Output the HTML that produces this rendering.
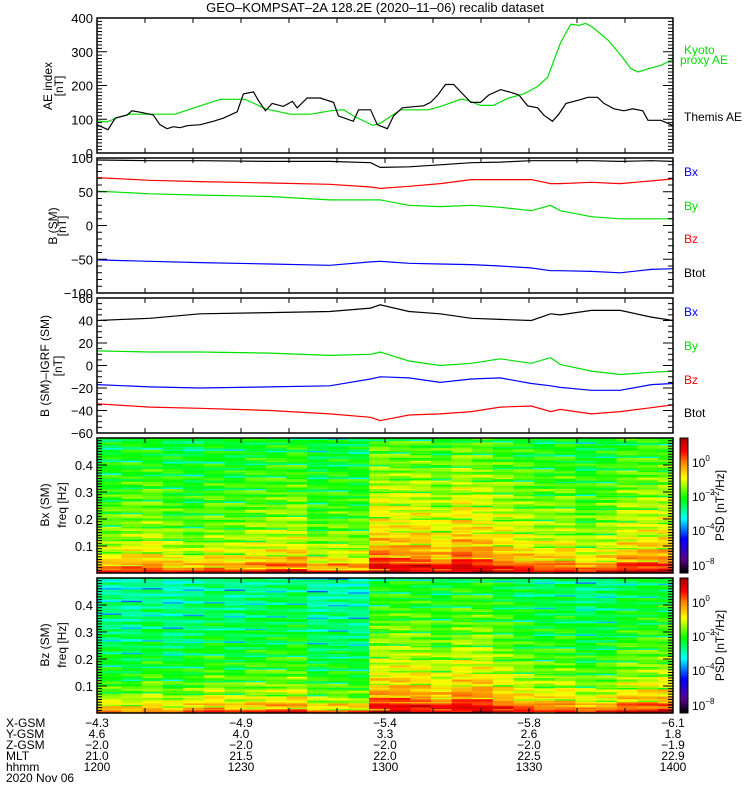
<!DOCTYPE html>
<html><head><meta charset="utf-8"><style>
html,body{margin:0;padding:0;background:#fff;}
svg{display:block;font-family:"Liberation Sans",sans-serif;}
</style></head><body>
<svg id="chart" width="750" height="800" viewBox="0 0 750 800" xmlns="http://www.w3.org/2000/svg"></svg>
<script>
// ---------- DATA ----------
const aeThemisT=[0,2.3,3.8,6.3,7.3,9,11.7,13.1,14.6,15.9,17.3,18.8,21.5,24.2,26.3,29.2,30.5,32.6,33.6,35.1,36.5,38.8,40.7,41.7,43.8,46.5,49.3,50.3,53.4,54.5,57,58.4,60.5,61.8,63.6,68,69.5,71,72.6,74.3,76.4,77.9,79.9,81.6,84.1,86.2,87.9,89.7,91.8,93.1,94.9,96.2,97.7,100.2,102.3,104.3,105.6,107.7,109.8,111.6,113.7,114.8,117.5,120];
const aeThemisV=[84,69,103,113,125,121,113,84,72,78,75,81,84,94,103,122,175,181,156,125,147,138,153,134,163,163,150,110,94,128,128,84,72,110,134,140,150,172,203,203,172,150,150,172,188,180,172,140,134,112,94,115,147,156,165,165,147,131,125,131,125,97,97,81];
const aeKyotoT=[0,2.1,4.2,6.9,16.3,21.5,25.7,30.9,35.1,40.3,44.5,48.6,51.4,53.4,57.4,59,63.2,68.9,71.6,75.8,77.2,79.9,82.6,85.6,88.9,91.8,93.9,96.6,98.7,100.4,101.8,103.3,106.5,109.1,111.2,112.7,115,117.5,120];
const aeKyotoV=[95,92,105,115,115,140,159,159,131,115,115,125,128,110,82,88,128,128,138,159,156,141,141,162,175,197,225,328,382,378,384,372,334,290,250,240,250,260,278];
const bT=[0,11,21.5,36,48.5,57,59,65,71.5,78,84,90.5,94.5,96.5,103,109,115.5,120];
const bBlack=[97,96,96,95,95,93,86,87,90,93,94,96,96,96,96,95,96,95];
const bRed=[71,67,65,63,61,57,55,58,62,68,68,68,62,62,64,62,66,69];
const bGreen=[51,47,45,43,38,38,38,30,28,30,27,22,30,22,13,10,10,10];
const bBlue=[-51,-53,-55,-57,-59,-54,-53,-56,-57,-58,-60,-63,-67,-67,-68,-70,-65,-64];
const dBlack=[40,42,46,47,48,51,54,48,46,42,41,40,46,45,49,49,43,40];
const dGreen=[13,12,12,11,9,10,12,4,0,2,6,2,7,1,-5,-8,-6,-5];
const dBlue=[-17,-19,-20,-19,-18,-12,-10,-11,-15,-12,-11,-16,-18,-19.5,-22,-22,-17,-16];
const dRed=[-34,-37,-38,-40,-43,-46,-49,-44,-43,-41,-37,-36,-41,-39,-43,-41,-37.5,-35];
const bxLevels=[0.3,0.3,0.5,0.6,0.3,0.1,0.4,0.3,0.5,0.6,0.7,0.1,0.3,0.2,1.4,1.3,1.3,1.0,1.5,1.3,1.0,0.8,0.6,0.7,0.3,0.5,0.9,1.0,1.1];
const bzLevels=[-0.1,-0.2,-0.3,0,-0.3,-0.1,0.2,-0.1,0.1,0.2,0.3,-0.3,-0.2,-0.3,1.2,1.3,1.2,0.9,1.3,1.3,0.9,0.6,0.4,0.5,0.1,0.2,0.6,0.7,0.8];
const bxProfile=[0.4,-0.5,-1.1,-1.4,-1.6,-1.75,-1.85,-1.95,-2.0,-2.05,-2.1,-2.15,-2.2,-2.25,-2.3,-2.35,-2.4,-2.45,-2.5,-2.55,-2.6];
const bzProfile=[0.4,-0.5,-1.1,-1.45,-1.7,-1.85,-2.0,-2.1,-2.2,-2.3,-2.4,-2.45,-2.5,-2.55,-2.6,-2.65,-2.7,-2.75,-2.8,-2.85,-2.9];
const stripes=[0.3,-0.2,0.5,-0.6,0.1,-0.3,0.4,-0.1,0.2,-0.8,0.3,0,-0.4,0.6,-0.2,0.1,-0.5,0.2,-0.1,0.4,-1.5,0.1,-0.3,0.5,-0.4,0.2,0.7,-0.2,0,-0.6,0.3,-0.1,0.4,-0.3,0.1,-1.2,0.2];
const xGsm=["-4.3","-4.9","-5.4","-5.8","-6.1"];
const yGsm=["4.6","4.0","3.3","2.6","1.8"];
const zGsm=["-2.0","-2.0","-2.0","-2.0","-1.9"];
const mlt=["21.0","21.5","22.0","22.5","22.9"];
const hhmm=["1200","1230","1300","1330","1400"];

// ---------- LAYOUT ----------
const svg=document.getElementById('chart');
const NS='http://www.w3.org/2000/svg';
const X0=97,X1=673;
const P=[{t:18,b:153},{t:158,b:293},{t:298,b:433},{t:438,b:573},{t:578,b:713}];
function xs(t){return X0+t*(X1-X0)/120;}
function mk(tag,a,parent){const e=document.createElementNS(NS,tag);for(const k in a)e.setAttribute(k,a[k]);(parent||svg).appendChild(e);return e;}
function ys(p,lo,hi){return v=>P[p].b-(v-lo)/(hi-lo)*(P[p].b-P[p].t);}
function txt(x,y,s,opts){const e=mk('text',Object.assign({x:x,y:y,'font-size':12,fill:'#000'},opts||{}));e.textContent=s;return e;}
function rotTxt(x,y,s){const e=txt(x,y,s,{'text-anchor':'middle',transform:'rotate(-90 '+x+' '+y+')'});return e;}

const defs=mk('defs',{});
P.forEach((p,i)=>{const c=mk('clipPath',{id:'clip'+i},defs);mk('rect',{x:X0,y:p.t,width:X1-X0,height:p.b-p.t},c);});

const stops=[[0,[0,0,0]],[0.1,[90,0,140]],[0.25,[0,0,255]],[0.4,[0,255,255]],[0.55,[0,255,0]],[0.7,[255,255,0]],[0.82,[255,128,0]],[0.9,[255,0,0]],[1,[160,0,0]]];
function cmap(f){f=Math.max(0,Math.min(1,f));for(let i=1;i<stops.length;i++){if(f<=stops[i][0]){const a=stops[i-1],b=stops[i];const u=(f-a[0])/(b[0]-a[0]);const c=a[1].map((v,j)=>Math.round(v+(b[1][j]-v)*u));return 'rgb('+c.join(',')+')';}}return 'rgb(160,0,0)';}
function valFrac(v){return 0.82+v*0.125;}

function spectro(pi,levels,profile,name){
  const g=mk('g',{'clip-path':'url(#clip'+pi+')'});
  
  
  const rows=96,rh=(P[pi].b-P[pi].t)/rows;
  for(let k=0;k<levels.length;k++){
    const xa=Math.max(X0,xs(-3.53+k*4.3)),xb=Math.min(X1,xs(-3.53+(k+1)*4.3));
    for(let r=0;r<rows;r++){
      const f=(r+0.5)*0.5/rows;
      const pv=profile[Math.min(profile.length-1,Math.round(f/0.025))];
      const v=pv+levels[k]*(1-f)+0.8*stripes[(r*7+k*11)%stripes.length];
      const y=P[pi].b-(r+1)*rh;
      const c=mk('rect',{x:xa,y:y,width:xb-xa+0.3,height:rh+0.3,fill:cmap(valFrac(v))},g);
      
      
    }
  }
}
spectro(3,bxLevels,bxProfile,'bx-spectrogram');
spectro(4,bzLevels,bzProfile,'bz-spectrogram');

function line(pi,T,V,lo,hi,color,name){
  const y=ys(pi,lo,hi);
  let d='';T.forEach((t,i)=>{d+=(i?'L':'M')+xs(t).toFixed(1)+' '+y(V[i]).toFixed(1);});
  const e=mk('path',{d:d,fill:'none',stroke:color,'stroke-width':1.2,'clip-path':'url(#clip'+pi+')'});
  
  
}
line(0,aeKyotoT,aeKyotoV,0,400,'#00e000','kyoto-ae-line');
line(0,aeThemisT,aeThemisV,0,400,'#000','themis-ae-line');
line(1,bT,bBlack,-100,100,'#000','b-btot-line');
line(1,bT,bRed,-100,100,'#f00','b-bz-line');
line(1,bT,bGreen,-100,100,'#00e000','b-by-line');
line(1,bT,bBlue,-100,100,'#00f','b-bx-line');
line(2,bT,dBlack,-60,60,'#000','db-btot-line');
line(2,bT,dGreen,-60,60,'#00e000','db-by-line');
line(2,bT,dBlue,-60,60,'#00f','db-bx-line');
line(2,bT,dRed,-60,60,'#f00','db-bz-line');

function axes(pi,lo,hi,major,minor,labels,fmt,name){
  const p=P[pi],y=ys(pi,lo,hi);
  const g=mk('g',{});
  
  
  mk('rect',{x:X0,y:p.t,width:X1-X0,height:p.b-p.t,fill:'none',stroke:'#000','stroke-width':1.5},g);
  const n=Math.round((hi-lo)/minor);
  for(let i=0;i<=n;i++){
    const v=lo+i*minor,yy=y(v);
    const isMaj=Math.abs(v/major-Math.round(v/major))<1e-6;
    const L=isMaj?10:5;
    mk('line',{x1:X0,x2:X0+L,y1:yy,y2:yy,stroke:'#000'},g);
    mk('line',{x1:X1,x2:X1-L,y1:yy,y2:yy,stroke:'#000'},g);
  }
  labels.forEach(v=>{const e=txt(X0-4,y(v)+5,fmt(v),{'text-anchor':'end','font-size':13});});
  for(let t=10;t<120;t+=10){
    mk('line',{x1:xs(t),x2:xs(t),y1:p.b,y2:p.b-5,stroke:'#000'},g);
    mk('line',{x1:xs(t),x2:xs(t),y1:p.t,y2:p.t+5,stroke:'#000'},g);
  }
}
const fm=v=>(v<0?'\u2212'+(-v):''+v);
axes(0,0,400,100,10,[0,100,200,300,400],fm,'ae-axes');
axes(1,-100,100,50,10,[-100,-50,0,50,100],fm,'b-sm-axes');
axes(2,-60,60,20,5,[-60,-40,-20,0,20,40,60],fm,'db-axes');
axes(3,0,0.5,0.1,0.01,[0.1,0.2,0.3,0.4],v=>v.toFixed(1),'bx-freq-axes');
axes(4,0,0.5,0.1,0.01,[0.1,0.2,0.3,0.4],v=>v.toFixed(1),'bz-freq-axes');

let e=txt(375,12,'GEO\u2013KOMPSAT\u20132A 128.2E (2020\u201311\u201306) recalib dataset',{'text-anchor':'middle','font-size':13});



e=rotTxt(52,86,'AE index');
e=rotTxt(63,86,'[nT]');
e=rotTxt(57,226,'B (SM)');
e=rotTxt(66,226,'[nT]');
e=rotTxt(49,366,'B (SM)\u2013IGRF (SM)');
e=rotTxt(62,366,'[nT]');
e=rotTxt(49,505,'Bx (SM)');
e=rotTxt(66,505,'freq [Hz]');
e=rotTxt(49,645,'Bz (SM)');
e=rotTxt(66,645,'freq [Hz]');

function leg(x,y,s,c,name){const t=txt(x,y,s,{fill:c,'font-size':12});}
leg(684,54,'Kyoto','#00e000','legend-kyoto');
leg(680,64,'proxy AE','#00e000','legend-proxy-ae');
leg(684,121,'Themis AE','#000','legend-themis-ae');
[[176,'Bx','#00f'],[210,'By','#00e000'],[243,'Bz','#f00'],[277,'Btot','#000']].forEach(a=>leg(684,a[0],a[1],a[2],'legend-b-'+a[1].toLowerCase()));
[[316,'Bx','#00f'],[350,'By','#00e000'],[384,'Bz','#f00'],[417,'Btot','#000']].forEach(a=>leg(684,a[0],a[1],a[2],'legend-db-'+a[1].toLowerCase()));

[3,4].forEach(pi=>{
  const p=P[pi];
  const g=mk('g',{});
  
  
  const h=p.b-p.t;
  for(let i=0;i<h;i++){mk('rect',{x:680,y:p.b-i-1,width:8,height:1.2,fill:cmap(i/h)},g);}
  mk('rect',{x:680,y:p.t,width:8,height:h,fill:'none',stroke:'#000'},g);
  [[24,'0'],[58,'\u22122'],[92,'\u22124'],[127,'\u22128']].forEach(a=>{
    const t=mk('text',{x:692,y:p.t+a[0]+5,'font-size':12},g);
    t.innerHTML='10<tspan dy="-6" font-size="8">'+a[1]+'</tspan>';
    
    
  });
  const cy=p.t+h/2;
  const t=mk('text',{x:724,y:cy,'font-size':12,'text-anchor':'middle',transform:'rotate(-90 724 '+cy+')'},g);
  t.innerHTML='PSD [nT<tspan dy="-5" font-size="8">2</tspan><tspan dy="5">/Hz]</tspan>';
  
  
});

const rowsL=[['X-GSM',xGsm],['Y-GSM',yGsm],['Z-GSM',zGsm],['MLT',mlt],['hhmm',hhmm]];
rowsL.forEach((r,i)=>{
  const y=727+i*11;
  e=txt(6,y,r[0],{'font-size':12});
  r[1].forEach((s,j)=>{e=txt(xs(j*30),y,s.replace('-','\u2212'),{'text-anchor':'middle','font-size':12});});
});
e=txt(6,782,'2020 Nov 06',{'font-size':12});
</script>
</body></html>
